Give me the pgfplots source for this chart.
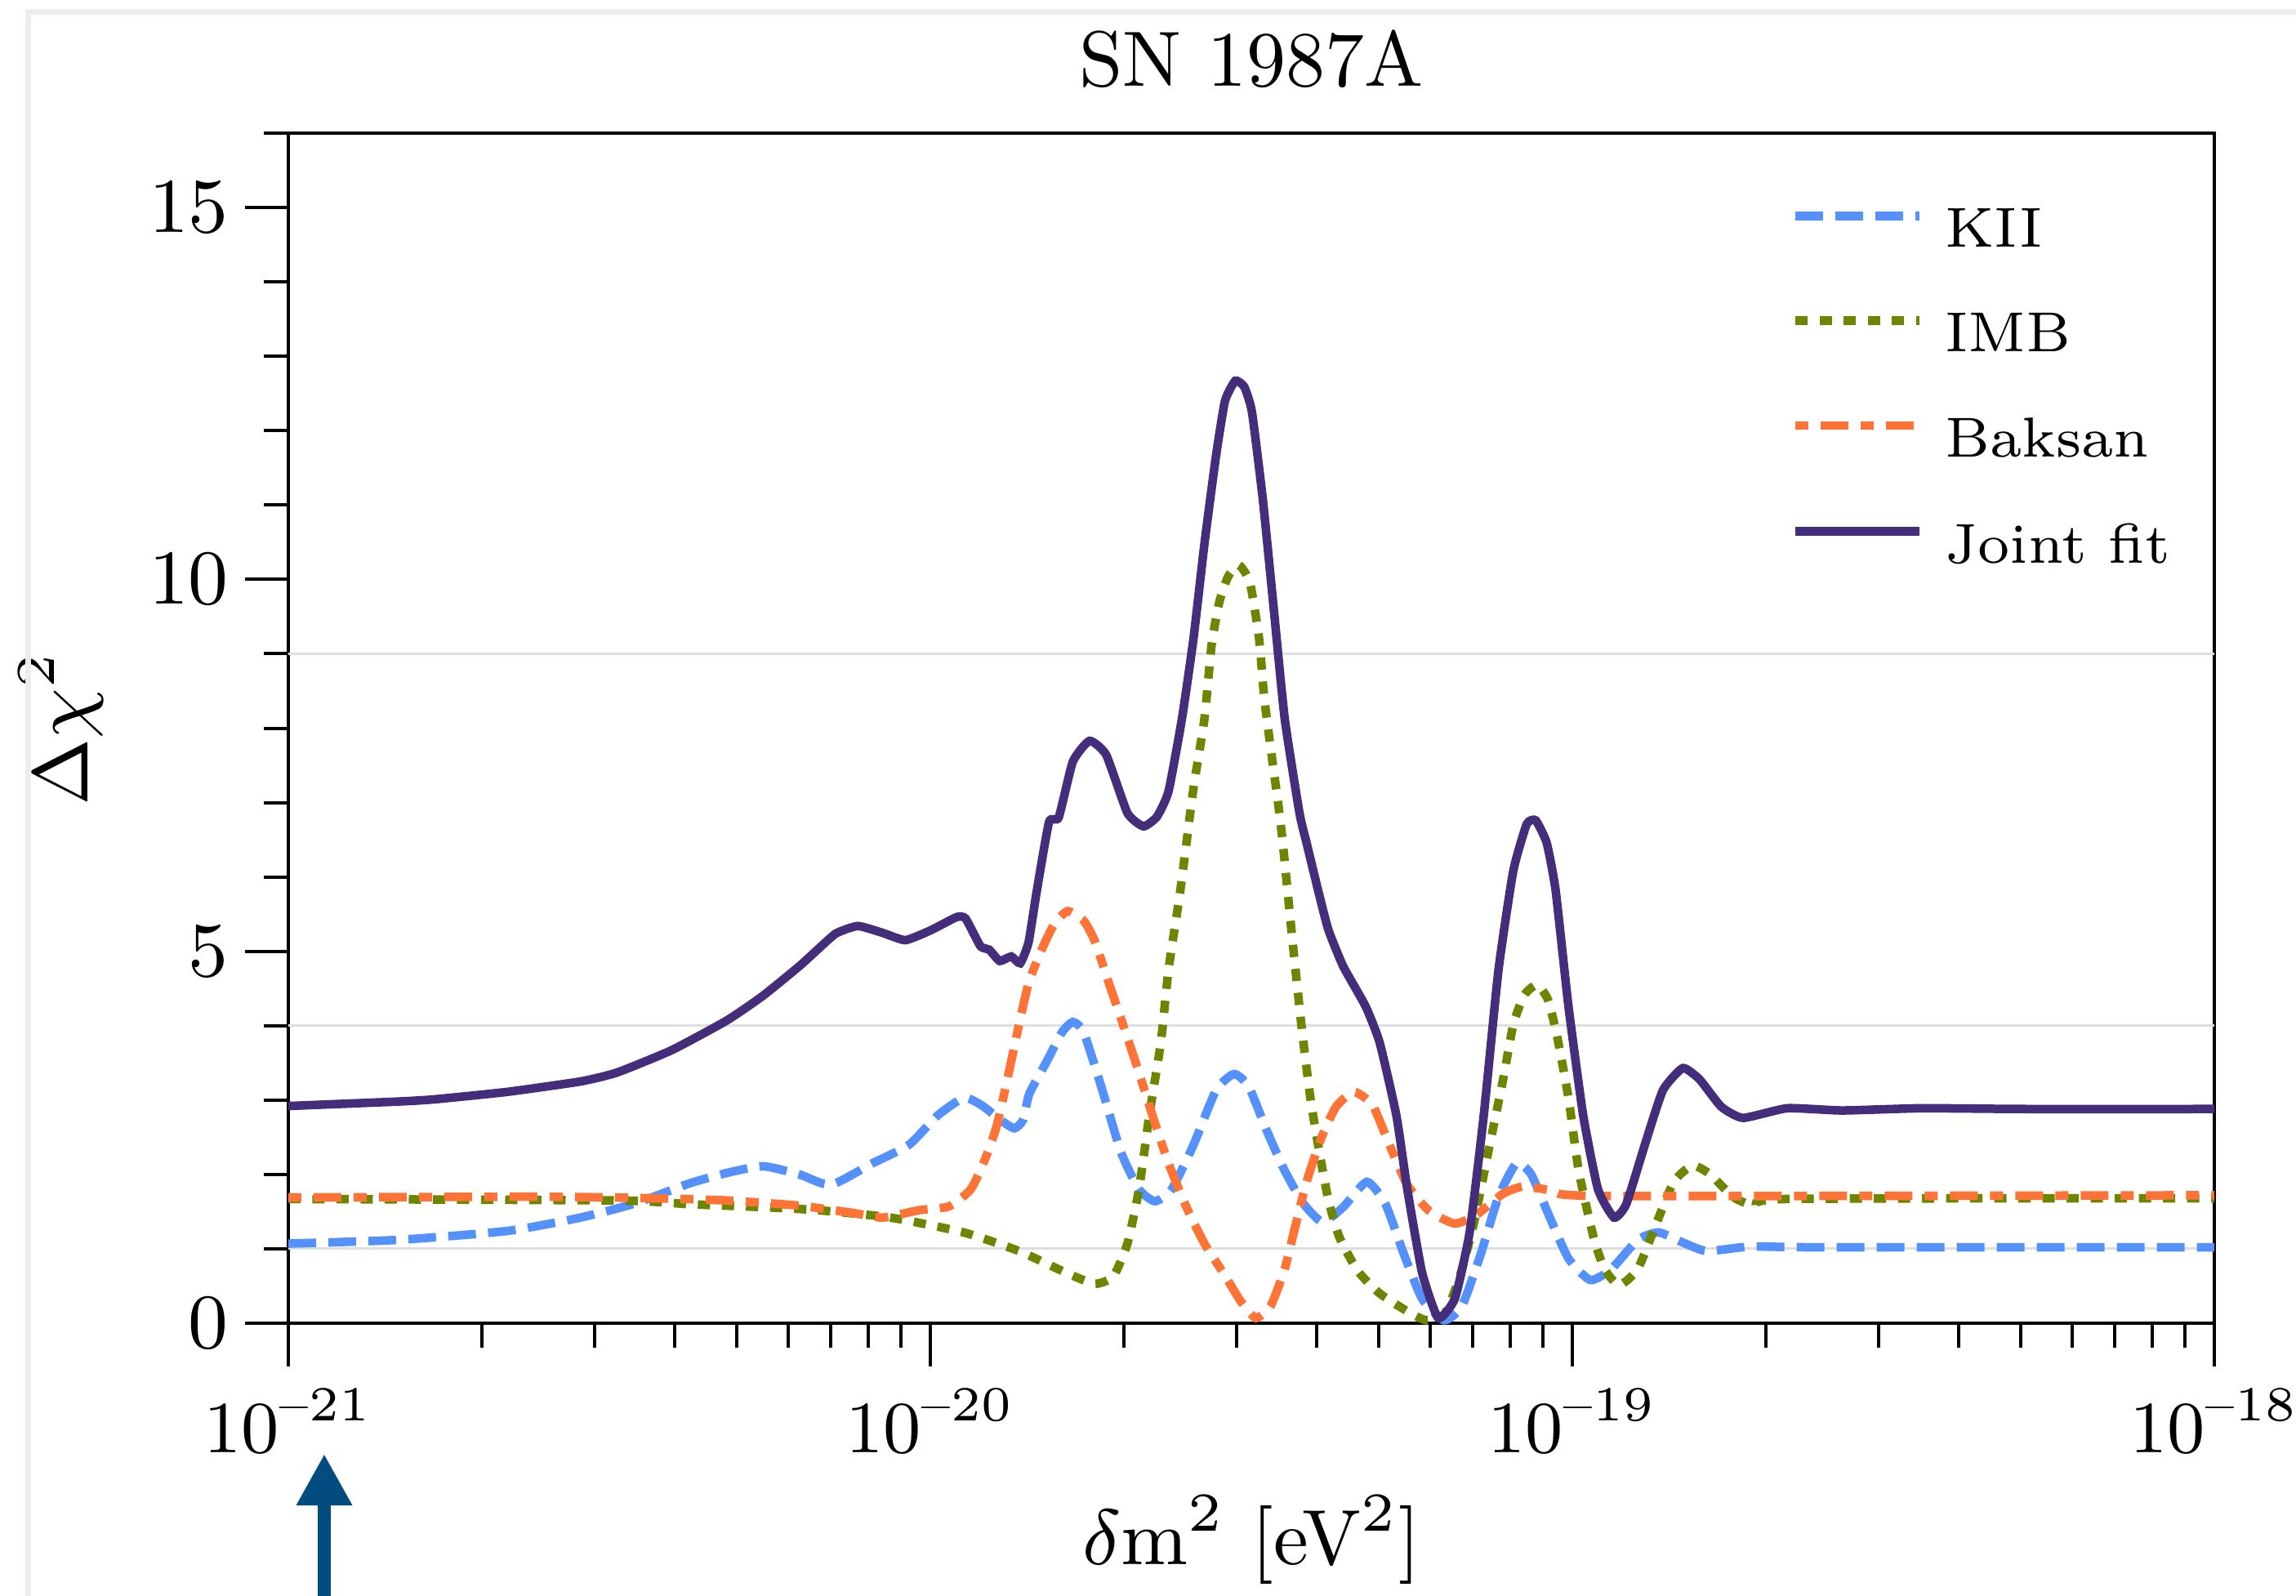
\RequirePackage{fix-cm}
\documentclass[border=0pt]{standalone}
\usepackage{amsmath}
\usepackage{pgfplots}
\pgfplotsset{compat=1.18}
\usepackage{pgfplotstable}
\usetikzlibrary{arrows.meta}

\definecolor{kii}{RGB}{85,145,250}
\definecolor{imb}{RGB}{108,134,0}
\definecolor{baksan}{RGB}{255,115,55}
\definecolor{joint}{RGB}{68,45,122}
\definecolor{arrowblue}{RGB}{2,76,127}
\definecolor{framegray}{RGB}{236,236,236}
\definecolor{gridgray}{RGB}{222,222,222}

% x = log10(delta m^2 / eV^2)
\pgfplotstableread{
lx y
-21.000 1.07
-20.829 1.12
-20.659 1.24
-20.545 1.42
-20.460 1.61
-20.375 1.88
-20.317 2.02
-20.261 2.11
-20.204 2.00
-20.155 1.86
-20.090 2.15
-20.033 2.40
-19.989 2.79
-19.948 3.03
-19.920 2.93
-19.892 2.74
-19.869 2.62
-19.855 2.74
-19.846 3.08
-19.818 3.53
-19.795 3.91
-19.778 4.05
-19.761 3.91
-19.732 3.13
-19.703 2.30
-19.675 1.80
-19.650 1.64
-19.624 1.80
-19.590 2.40
-19.555 3.13
-19.527 3.35
-19.504 3.18
-19.476 2.59
-19.448 2.05
-19.419 1.61
-19.389 1.36
-19.357 1.56
-19.320 1.90
-19.291 1.60
-19.262 0.92
-19.234 0.33
-19.200 0.04
-19.172 0.23
-19.143 0.92
-19.115 1.70
-19.087 2.15
-19.064 2.00
-19.035 1.42
-19.006 0.87
-18.972 0.58
-18.939 0.73
-18.898 1.12
-18.865 1.22
-18.824 1.07
-18.790 0.97
-18.722 1.03
-18.609 1.02
-18.000 1.02
}\kiitable

\pgfplotstableread{
lx y
-21.000 1.67
-20.490 1.65
-20.375 1.60
-20.261 1.56
-20.176 1.52
-20.062 1.42
-19.948 1.22
-19.862 0.97
-19.789 0.68
-19.744 0.53
-19.715 0.63
-19.693 1.07
-19.675 1.80
-19.659 2.79
-19.641 3.77
-19.629 4.75
-19.612 5.73
-19.601 6.46
-19.590 7.20
-19.573 8.13
-19.562 9.11
-19.550 9.69
-19.536 10.04
-19.519 10.19
-19.502 9.95
-19.488 9.21
-19.480 8.42
-19.470 7.74
-19.459 7.04
-19.451 6.46
-19.437 5.24
-19.422 4.01
-19.408 3.03
-19.394 2.30
-19.380 1.66
-19.363 1.16
-19.334 0.70
-19.300 0.40
-19.257 0.16
-19.228 0.04
-19.200 0.11
-19.177 0.58
-19.154 1.32
-19.131 2.30
-19.108 3.27
-19.092 4.01
-19.075 4.41
-19.055 4.55
-19.038 4.35
-19.024 3.87
-19.006 3.03
-18.990 2.05
-18.967 1.16
-18.950 0.73
-18.927 0.51
-18.898 0.73
-18.870 1.32
-18.842 1.90
-18.813 2.12
-18.785 2.00
-18.750 1.70
-18.716 1.58
-18.665 1.67
-18.000 1.68
}\imbtable

\pgfplotstableread{
lx y
-21.000 1.69
-20.603 1.70
-20.432 1.68
-20.317 1.65
-20.204 1.58
-20.119 1.48
-20.074 1.42
-20.017 1.52
-19.971 1.57
-19.937 1.80
-19.915 2.20
-19.897 2.64
-19.880 3.28
-19.862 4.01
-19.846 4.60
-19.823 5.09
-19.806 5.38
-19.786 5.54
-19.761 5.41
-19.744 5.14
-19.721 4.55
-19.698 3.97
-19.675 3.37
-19.652 2.74
-19.629 2.15
-19.601 1.56
-19.573 1.07
-19.544 0.68
-19.516 0.29
-19.493 0.07
-19.470 0.23
-19.448 0.73
-19.431 1.32
-19.414 1.90
-19.391 2.49
-19.368 2.91
-19.340 3.11
-19.311 2.93
-19.285 2.40
-19.257 1.86
-19.223 1.51
-19.183 1.34
-19.149 1.46
-19.108 1.74
-19.075 1.84
-19.029 1.78
-18.949 1.71
-18.000 1.72
}\baksantable

\pgfplotstableread{
lx y
-21.000 2.92
-20.829 2.98
-20.772 3.01
-20.659 3.11
-20.545 3.25
-20.488 3.37
-20.403 3.67
-20.317 4.07
-20.261 4.40
-20.204 4.80
-20.176 5.02
-20.147 5.24
-20.113 5.34
-20.075 5.25
-20.039 5.15
-20.000 5.28
-19.959 5.46
-19.945 5.44
-19.922 5.07
-19.908 5.02
-19.892 4.87
-19.874 4.93
-19.860 4.84
-19.847 5.12
-19.834 5.82
-19.815 6.74
-19.800 6.80
-19.778 7.55
-19.752 7.83
-19.726 7.64
-19.693 6.86
-19.668 6.68
-19.647 6.81
-19.629 7.15
-19.608 8.13
-19.590 9.21
-19.573 10.48
-19.555 11.66
-19.541 12.40
-19.525 12.67
-19.511 12.59
-19.499 12.25
-19.482 11.07
-19.465 9.60
-19.448 8.13
-19.425 6.86
-19.414 6.46
-19.396 5.82
-19.380 5.29
-19.357 4.80
-19.322 4.26
-19.300 3.77
-19.274 2.79
-19.257 1.80
-19.234 0.68
-19.209 0.07
-19.183 0.33
-19.160 1.22
-19.138 2.79
-19.115 4.75
-19.092 6.08
-19.071 6.71
-19.057 6.76
-19.040 6.46
-19.026 5.82
-19.006 4.26
-18.983 2.79
-18.960 1.80
-18.935 1.42
-18.916 1.60
-18.887 2.40
-18.859 3.13
-18.828 3.43
-18.802 3.28
-18.768 2.91
-18.734 2.76
-18.665 2.89
-18.580 2.86
-18.456 2.89
-18.300 2.88
-18.000 2.88
}\jointtable

\begin{document}
\begin{tikzpicture}[font=\fontsize{9.6}{11.5}\selectfont]
\path[use as bounding box] (-35.3pt,-33.4pt) rectangle (245.8pt,162.0pt);
\begin{axis}[
  scale only axis,
  width=235.8pt, height=145.7pt,
  xmin=-21, xmax=-18, ymin=0, ymax=16,
  xtick={-21,-20,-19,-18},
  xticklabels={$10^{\text{--}21}$,$10^{\text{--}20}$,$10^{\text{--}19}$,$10^{\text{--}18}$},
  minor xtick={-20.69897,-20.52288,-20.39794,-20.30103,-20.22185,-20.15490,-20.09691,-20.04576,
               -19.69897,-19.52288,-19.39794,-19.30103,-19.22185,-19.15490,-19.09691,-19.04576,
               -18.69897,-18.52288,-18.39794,-18.30103,-18.22185,-18.15490,-18.09691,-18.04576},
  ytick={0,5,10,15},
  minor ytick={1,2,3,4,6,7,8,9,11,12,13,14,16},
  extra y ticks={1,4,9},
  extra y tick labels={},
  extra y tick style={grid=major, major tick length=0pt},
  major grid style={gridgray, line width=0.3pt},
  tick align=outside,
  xtick pos=bottom, ytick pos=left,
  major tick length=5.3pt, minor tick length=3pt,
  every tick/.style={black, line width=0.4pt},
  axis line style={line width=0.45pt},
  xticklabel style={yshift=0.7pt, font=\fontsize{9.0}{10.8}\selectfont},
  yticklabel style={xshift=1.5pt, font=\fontsize{9.5}{11.4}\selectfont},
  clip=false,
  xlabel={$\delta\mathrm{m}^2$ [eV$^{2}$]},
  xlabel style={at={(axis description cs:0.5,-0.2025)}, anchor=base},
  ylabel={$\Delta\chi^2$},
  ylabel style={at={(axis description cs:-0.1043,0.5)}, anchor=base},
  legend style={at={(axis description cs:0.7794,0.938)}, anchor=north west,
    draw=none, fill=none, inner sep=0pt, row sep=6.6pt, column sep=2.6pt,
    font=\fontsize{6.9}{8.3}\selectfont,
    nodes={inner sep=0pt}},
  legend cell align=left,
  legend image code/.code={\draw[#1] (0pt,2.2pt) -- (15.2pt,2.2pt);},
]
\addplot[kii, line width=1.05pt, dash pattern=on 3.4pt off 1.5pt, smooth, tension=0.35] table[x=lx,y=y] {\kiitable};
\addlegendentry{KII}
\addplot[imb, line width=1.05pt, dash pattern=on 1.5pt off 1.45pt, smooth, tension=0.35] table[x=lx,y=y] {\imbtable};
\addlegendentry{IMB}
\addplot[baksan, line width=1.05pt, dash pattern=on 1.6pt off 1.5pt on 3.4pt off 1.5pt, smooth, tension=0.35] table[x=lx,y=y] {\baksantable};
\addlegendentry{Baksan}
\addplot[joint, line width=1.05pt, smooth, tension=0.3] table[x=lx,y=y] {\jointtable};
\addlegendentry{Joint fit}
\node[anchor=base] at (rel axis cs:0.5,1) [yshift=5.8pt] {SN 1987A};
\draw[arrowblue, line width=1.6pt, -{Triangle[length=6.3pt,width=6.4pt]}]
  (axis cs:-20.944,0) ++(0pt,-45pt) -- ++(0pt,29pt);
\end{axis}
\draw[framegray, line width=0.7pt] (-31.8pt,-40pt) -- (-31.8pt,160.5pt) -- (250pt,160.5pt);
\end{tikzpicture}
\end{document}
